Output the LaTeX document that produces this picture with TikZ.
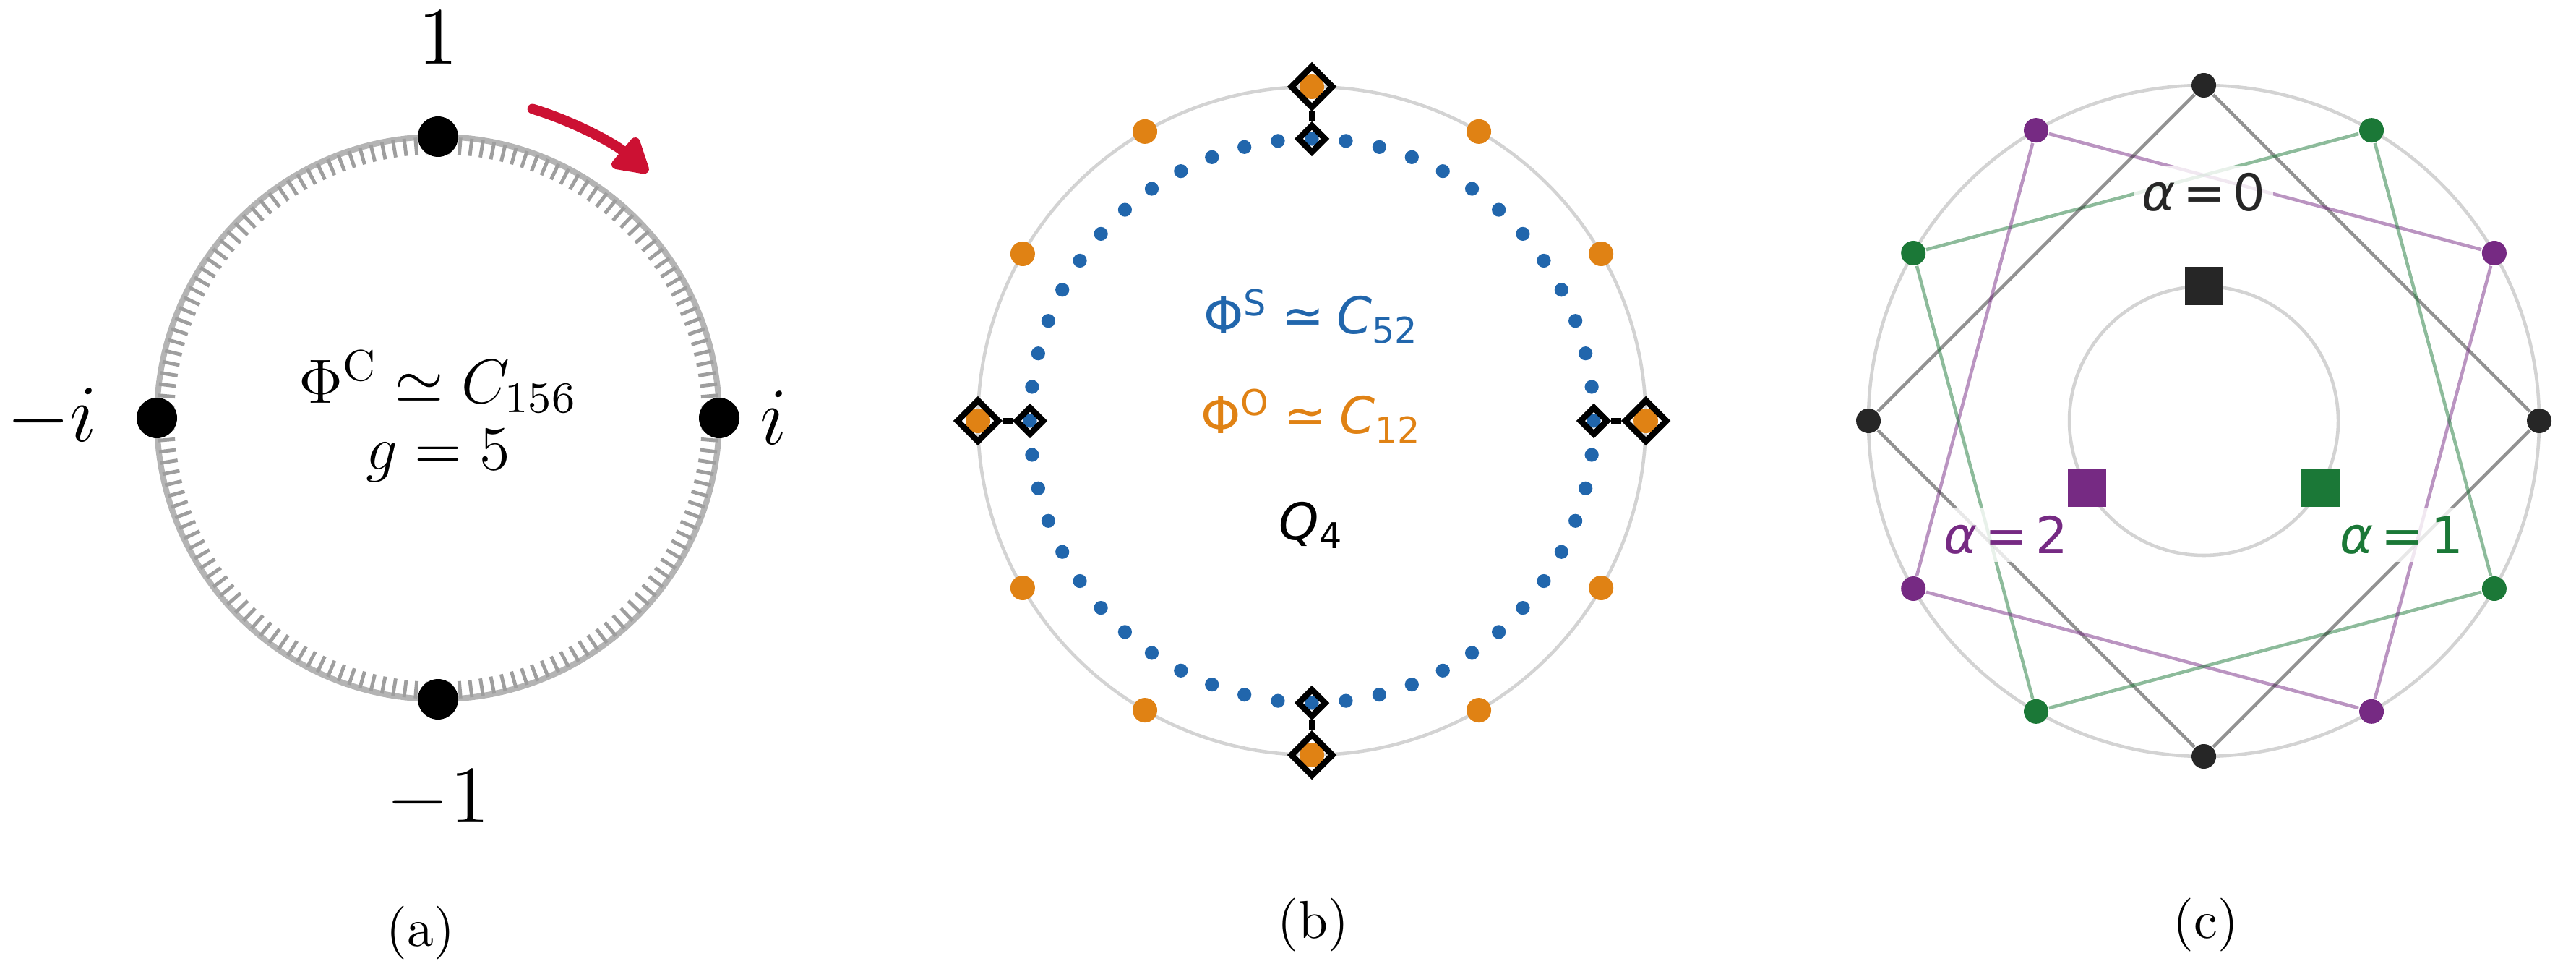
\RequirePackage{fix-cm}
\documentclass[tikz,border=0pt]{standalone}
\usepackage{amsmath}
\usepackage{fontspec}
\usepackage{xcolor}
\usepackage{tikz}
\usetikzlibrary{positioning,shapes.geometric,arrows.meta}

\newfontfamily\djv{DejaVu Sans}[ItalicFont={DejaVu Sans Oblique}]

\definecolor{ringgray}{RGB}{211,211,211}
\definecolor{clockgray}{RGB}{180,180,180}
\definecolor{tickgray}{RGB}{158,158,158}
\definecolor{turnred}{RGB}{204,17,51}
\definecolor{sblue}{RGB}{33,102,172}
\definecolor{oorange}{RGB}{224,130,20}
\definecolor{cdark}{RGB}{38,38,38}
\definecolor{cpurple}{RGB}{118,42,131}
\definecolor{cgreen}{RGB}{27,120,55}
\colorlet{grp0}{cdark}
\colorlet{grp1}{cpurple}
\colorlet{grp2}{cgreen}

\begin{document}
\begin{tikzpicture}[
  clockring/.style={draw=clockgray, line width=1.15pt},
  tickmark/.style={draw=tickgray, line width=0.7pt},
  ringline/.style={draw=ringgray, line width=0.65pt},
  bigdot/.style={circle, fill=black, inner sep=0pt, minimum size=0.28cm},
  axislabel/.style={inner sep=0pt, font=\fontsize{16}{19}\selectfont},
  centertext/.style={anchor=base, inner sep=0pt, font=\fontsize{12.3}{14}\selectfont},
  turnarrow/.style={draw=turnred, line width=2pt, line cap=round, -{Triangle[length=0.27cm, width=0.3cm, round]}},
  bigdia/.style={diamond, draw=black, line width=1.2pt, inner sep=0pt, minimum size=0.3cm},
  smalldia/.style={diamond, draw=black, line width=1.2pt, inner sep=0pt, minimum size=0.2cm},
  linkline/.style={draw=black, line width=1.2pt},
  symtext/.style={anchor=base, inner sep=0pt, font=\djv\fontsize{10}{12}\selectfont},
  cdot/.style={circle, inner sep=0pt, minimum size=0.17cm},
  chord/.style={line width=0.65pt, draw opacity=0.5},
  sqnode/.style={rectangle, inner sep=0pt, minimum size=0.265cm},
  alphalabel/.style={fill=white, fill opacity=0.8, text opacity=1, inner sep=1.5pt, font=\djv\fontsize{10}{12}\selectfont},
  panellabel/.style={anchor=base, inner sep=0pt, font=\fontsize{10.5}{12}\selectfont}
]
\useasboundingbox (0,0) rectangle (17.82,6.695);

% (a) clock with 156 ticks
\begin{scope}[shift={(3.03,3.805)}]
  \draw[clockring] (0,0) circle (1.945);
  \foreach \k in {1,...,156}
    \draw[tickmark] (360/156*\k:1.945) -- (360/156*\k:1.825);
  \node[bigdot] (atop) at (90:1.945) {};
  \node[bigdot] (aright) at (0:1.945) {};
  \node[bigdot] (abottom) at (270:1.945) {};
  \node[bigdot] (aleft) at (180:1.945) {};
  \node[axislabel, above=0.35cm of atop] (lone) {$1$};
  \node[axislabel, below=0.335cm of abottom] (lminusone) {$-1$};
  \node[axislabel, left=0.26cm of aleft] (lminusi) {$-i$};
  \node[axislabel, right=0.13cm of aright] (li) {$i$};
  \node[centertext] (phic) at (0,0.10) {$\Phi^{\mathrm{C}} \simeq C_{156}$};
  \node[centertext] (gval) at (0,-0.355) {$g = 5$};
  \coordinate (turnstart) at (73:2.235);
  \draw[turnarrow] (turnstart) arc[start angle=73, end angle=49.5, radius=2.235];
\end{scope}
\node[panellabel] (capa) at (2.91,0.155) {(a)};

% (b) two rings
\begin{scope}[shift={(9.075,3.785)}]
  \draw[ringline] (0,0) circle (2.31);
  \foreach \k in {0,...,11}
    \fill[oorange] (30*\k:2.31) circle (0.085);
  \foreach \k in {0,...,51}
    \fill[sblue] (360/52*\k:1.95) circle (0.048);
  \foreach \ang/\dir in {90/n, 0/e, 270/s, 180/w} {
    \node[bigdia] (bo\dir) at (\ang:2.31) {};
    \node[smalldia] (bi\dir) at (\ang:1.95) {};
    \draw[linkline] (bo\dir) -- (bi\dir);
  }
  \node[symtext, text=sblue] (phis) at (0,0.60) {Φ\textsuperscript{S}\hspace{.25em}≃\hspace{.25em}\textit{C}\textsubscript{52}};
  \node[symtext, text=oorange] (phio) at (0,-0.09) {Φ\textsuperscript{O}\hspace{.25em}≃\hspace{.25em}\textit{C}\textsubscript{12}};
  \node[symtext] (qfour) at (0,-0.825) {\textit{Q}\textsubscript{4}};
\end{scope}
\node[panellabel] (capb) at (9.085,0.21) {(b)};

% (c) three squares
\begin{scope}[shift={(15.245,3.785)}]
  \draw[ringline] (0,0) circle (2.32);
  \draw[ringline] (0,0) circle (0.93);
  \foreach \k in {0,...,11} {
    \pgfmathtruncatemacro{\grp}{mod(\k,3)}
    \node[cdot, fill=grp\grp] (c\k) at (30*\k:2.32) {};
  }
  \foreach \k in {0,...,11} {
    \pgfmathtruncatemacro{\grp}{mod(\k,3)}
    \pgfmathtruncatemacro{\nxt}{mod(\k+3,12)}
    \draw[chord, draw=grp\grp] (c\k) -- (c\nxt);
  }
  \node[sqnode, fill=cdark] (qa) at (90:0.93) {};
  \node[sqnode, fill=cgreen] (qb) at (-30:0.93) {};
  \node[sqnode, fill=cpurple] (qc) at (210:0.93) {};
  \node[alphalabel, text=cdark] (alzero) at (90:1.58) {\textit{α}\hspace{.15em}=\hspace{.15em}0};
  \node[alphalabel, text=cgreen] (alone) at (-30:1.58) {\textit{α}\hspace{.15em}=\hspace{.15em}1};
  \node[alphalabel, text=cpurple] (altwo) at (210:1.58) {\textit{α}\hspace{.15em}=\hspace{.15em}2};
\end{scope}
\node[panellabel] (capc) at (15.26,0.21) {(c)};
\end{tikzpicture}
\end{document}
